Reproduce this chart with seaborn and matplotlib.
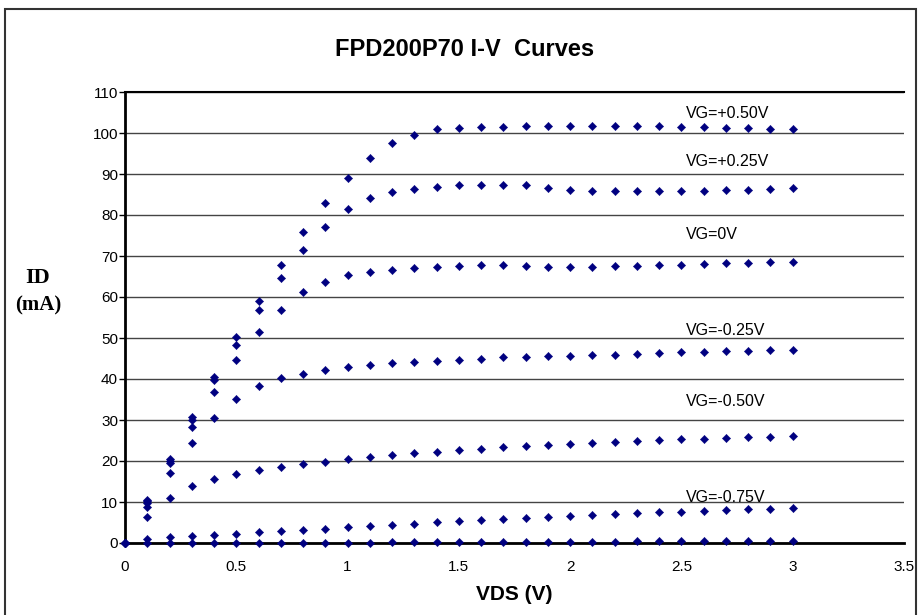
import pandas as pd
import matplotlib.pyplot as plt
import seaborn as sns
from matplotlib.patches import Rectangle

# --- Data (VDS in V, ID in mA) ---
VDS = [round(0.1 * i, 1) for i in range(31)]

GATE_LABELS = ['VG=+0.50V', 'VG=+0.25V', 'VG=0V', 'VG=-0.25V', 'VG=-0.50V', 'VG=-0.75V', 'VG=-1.00V']

ID_VG_P050 = [0, 10.6, 20.6, 30.7, 40.4, 50.2, 59.1, 67.7, 75.8, 82.9, 89.0, 94.0, 97.6, 99.5, 100.9, 101.3,
              101.5, 101.5, 101.8, 101.8, 101.8, 101.8, 101.8, 101.8, 101.8, 101.5, 101.5, 101.3, 101.1, 100.9, 100.9]
ID_VG_P025 = [0, 10.2, 20.0, 30.0, 39.8, 48.4, 56.9, 64.6, 71.4, 77.0, 81.5, 84.1, 85.6, 86.3, 86.9, 87.2,
              87.2, 87.3, 87.3, 86.6, 86.1, 85.9, 85.9, 85.9, 85.9, 85.9, 85.9, 86.1, 86.1, 86.3, 86.6]
ID_VG_0 = [0, 9.8, 19.4, 28.4, 36.8, 44.7, 51.5, 56.9, 61.1, 63.7, 65.3, 66.0, 66.7, 67.0, 67.2, 67.5,
           67.7, 67.7, 67.5, 67.2, 67.2, 67.2, 67.5, 67.5, 67.7, 67.7, 68.0, 68.2, 68.2, 68.5, 68.5]
ID_VG_M025 = [0, 8.7, 17.1, 24.3, 30.6, 35.1, 38.4, 40.2, 41.3, 42.3, 43.0, 43.4, 44.0, 44.2, 44.5, 44.7,
              45.0, 45.3, 45.4, 45.7, 45.7, 45.9, 45.9, 46.2, 46.3, 46.5, 46.5, 46.8, 46.8, 47.0, 47.0]
ID_VG_M050 = [0, 6.3, 10.9, 13.9, 15.5, 16.8, 17.8, 18.5, 19.2, 19.8, 20.5, 20.9, 21.5, 22.0, 22.3, 22.7,
              22.9, 23.5, 23.7, 24.0, 24.2, 24.5, 24.7, 24.9, 25.2, 25.4, 25.4, 25.7, 25.9, 25.9, 26.2]
ID_VG_M075 = [0, 1.0, 1.4, 1.6, 1.9, 2.1, 2.6, 2.9, 3.1, 3.5, 3.8, 4.1, 4.4, 4.7, 5.1, 5.4,
              5.7, 5.9, 6.2, 6.4, 6.7, 6.9, 7.1, 7.4, 7.5, 7.6, 7.9, 8.0, 8.3, 8.3, 8.5]
ID_VG_M100 = [0, 0.1, 0.1, 0.1, 0.1, 0.1, 0.1, 0.1, 0.1, 0.1, 0.1, 0.1, 0.2, 0.2, 0.2, 0.2,
              0.2, 0.2, 0.2, 0.2, 0.2, 0.3, 0.3, 0.5, 0.5, 0.5, 0.5, 0.5, 0.5, 0.5, 0.5]

SERIES = [ID_VG_P050, ID_VG_P025, ID_VG_0, ID_VG_M025, ID_VG_M050, ID_VG_M075, ID_VG_M100]

# curve labels drawn on the chart (last series carries no label)
LABELED = GATE_LABELS[:6]
LABEL_Y = [104.8, 93.0, 75.2, 51.9, 34.4, 11.1]
LABEL_X = 2.52

Y_TICKS = list(range(0, 111, 10))
X_TICKS = [0, 0.5, 1, 1.5, 2, 2.5, 3, 3.5]

# --- Long-form table for seaborn ---
frames = []
for label, ids in zip(GATE_LABELS, SERIES):
    frames.append(pd.DataFrame({'VDS': VDS, 'ID': ids, 'VG': label}))
df = pd.concat(frames, ignore_index=True)

sns.set_style('white')
plt.rcParams['font.family'] = ['Liberation Sans', 'DejaVu Sans']
plt.rcParams.update({'text.color': 'black', 'xtick.color': 'black', 'ytick.color': 'black'})

W, H = 922, 615
fig = plt.figure(figsize=(W / 100, H / 100), dpi=100)
ax = fig.add_axes([125 / W, 1 - 543 / H, (904 - 125) / W, (543 - 92) / H])

# outer chart frame
fig.patches.append(Rectangle((5 / W, -0.05), (916 - 5) / W, 1.05 - 9 / H,
                             transform=fig.transFigure, fill=False, edgecolor='#333333', lw=1.5))

sns.scatterplot(data=df, x='VDS', y='ID', color='#000080', marker='D', s=18,
                edgecolor='#000080', linewidth=0.3, legend=False, ax=ax, zorder=3, clip_on=False)

ax.set_xlim(0, 3.5)
ax.set_ylim(0, 110)
ax.set_xticks(X_TICKS)
ax.set_xticklabels(['0', '0.5', '1', '1.5', '2', '2.5', '3', '3.5'])
ax.set_yticks(Y_TICKS)
ax.yaxis.grid(True, color='#444444', lw=1)
ax.xaxis.grid(False)
ax.set_axisbelow(True)

for side in ['left', 'bottom', 'top']:
    ax.spines[side].set_visible(True)
    ax.spines[side].set_color('black')
ax.spines['left'].set_linewidth(2)
ax.spines['bottom'].set_linewidth(2)
ax.spines['top'].set_linewidth(1.5)
ax.spines['right'].set_visible(False)

ax.tick_params(axis='y', which='major', left=True, length=4, width=1, pad=1, labelsize=11, color='black')
ax.tick_params(axis='x', which='major', bottom=False, length=0, pad=12, labelsize=11)

ax.set_xlabel('')
ax.set_ylabel('')

for label, y in zip(LABELED, LABEL_Y):
    ax.text(LABEL_X, y, label, ha='left', va='center', fontsize=11.5, color='black')

fig.text(465 / W, 1 - 50 / H, 'FPD200P70 I-V  Curves', ha='center', va='center',
         fontsize=17, fontweight='bold')
fig.text(514 / W, 1 - 595 / H, 'VDS (V)', ha='center', va='center', fontsize=15, fontweight='bold')
fig.text(38 / W, 1 - 278 / H, 'ID', ha='center', va='center', fontsize=16, fontweight='bold',
         family=['Liberation Serif', 'DejaVu Serif'])
fig.text(38 / W, 1 - 305 / H, '(mA)', ha='center', va='center', fontsize=15, fontweight='bold',
         family=['Liberation Serif', 'DejaVu Serif'])

fig.savefig('out.png', dpi=100)
